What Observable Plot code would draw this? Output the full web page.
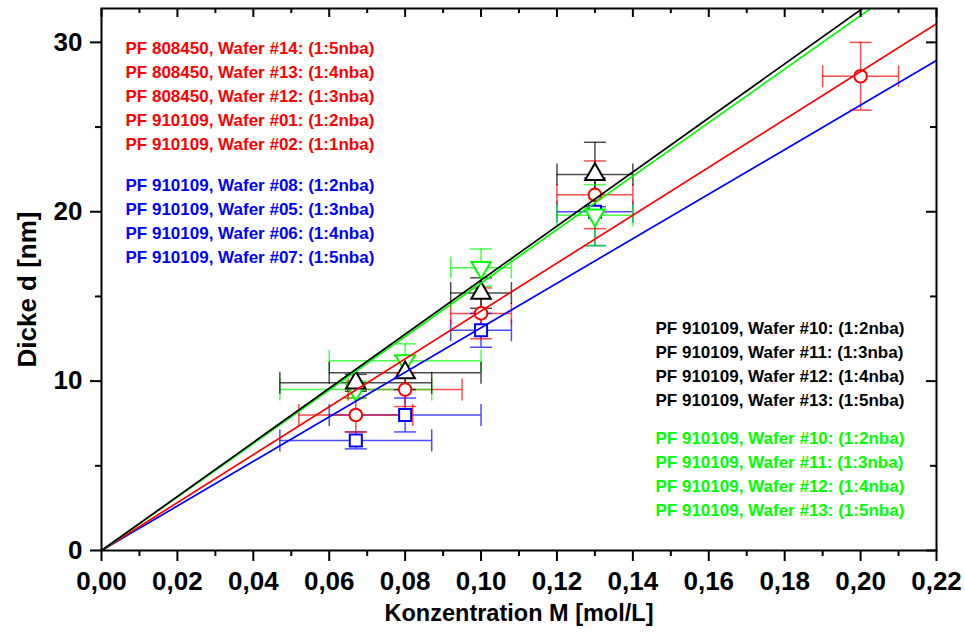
<!DOCTYPE html>
<html><head><meta charset="utf-8">
<script src="https://cdn.jsdelivr.net/npm/d3@7"></script>
<script src="https://cdn.jsdelivr.net/npm/@observablehq/plot@0.6"></script>
<style>body{margin:0;background:#fff}</style>
</head><body><div id="chart"></div>
<script>
// ---- data ----
const redConc      = [0.067, 0.08, 0.10, 0.13, 0.20];
const redThick     = [8.0, 9.5, 14.0, 21.0, 28.0];
const redConcErr   = [0.015, 0.015, 0.008, 0.01, 0.01];
const redThickErr  = [1.0, 1.0, 1.5, 2.0, 2.0];

const blueConc     = [0.067, 0.08, 0.10, 0.13];
const blueThick    = [6.5, 8.0, 13.0, 20.0];
const blueConcErr  = [0.02, 0.02, 0.008, 0.01];
const blueThickErr = [0.5, 1.0, 1.0, 2.0];

const blackConc     = [0.067, 0.08, 0.10, 0.13];
const blackThick    = [9.9, 10.5, 15.2, 22.2];
const blackConcErr  = [0.02, 0.02, 0.008, 0.01];
const blackThickErr = [0.5, 1.0, 0.9, 1.9];

const greenConc     = [0.067, 0.08, 0.10, 0.13];
const greenThick    = [9.5, 11.2, 16.7, 19.8];
const greenConcErr  = [0.02, 0.02, 0.008, 0.01];
const greenThickErr = [0.5, 1.0, 1.1, 1.8];

// slopes of the fitted lines through the origin (nm per mol/L)
const redSlope = 141.4, blueSlope = 131.5, blackSlope = 159.6, greenSlope = 157.9;

const xMajor = [0, 0.02, 0.04, 0.06, 0.08, 0.10, 0.12, 0.14, 0.16, 0.18, 0.20, 0.22];
const xMinor = [0.01, 0.03, 0.05, 0.07, 0.09, 0.11, 0.13, 0.15, 0.17, 0.19, 0.21];
const yMajor = [0, 10, 20, 30];
const yMinor = [5, 15, 25];

const redLabels = [
  "PF 808450, Wafer #14: (1:5nba)",
  "PF 808450, Wafer #13: (1:4nba)",
  "PF 808450, Wafer #12: (1:3nba)",
  "PF 910109, Wafer #01: (1:2nba)",
  "PF 910109, Wafer #02: (1:1nba)"
];
const blueLabels = [
  "PF 910109, Wafer #08: (1:2nba)",
  "PF 910109, Wafer #05: (1:3nba)",
  "PF 910109, Wafer #06: (1:4nba)",
  "PF 910109, Wafer #07: (1:5nba)"
];
const blackLabels = [
  "PF 910109, Wafer #10: (1:2nba)",
  "PF 910109, Wafer #11: (1:3nba)",
  "PF 910109, Wafer #12: (1:4nba)",
  "PF 910109, Wafer #13: (1:5nba)"
];
const greenLabels = [
  "PF 910109, Wafer #10: (1:2nba)",
  "PF 910109, Wafer #11: (1:3nba)",
  "PF 910109, Wafer #12: (1:4nba)",
  "PF 910109, Wafer #13: (1:5nba)"
];

const RED = "#ff0000", BLUE = "#0000ff", BLACK = "#000000", GREEN = "#00ff00";

// drawing order: blue, red, green, black
const series = [
  {color: BLUE,  symbol: "square",   rotate: 0,   r: 6.8, conc: blueConc,  thick: blueThick,  ce: blueConcErr,  te: blueThickErr,  slope: blueSlope},
  {color: RED,   symbol: "circle",   rotate: 0,   r: 6.3, conc: redConc,   thick: redThick,   ce: redConcErr,   te: redThickErr,   slope: redSlope},
  {color: GREEN, symbol: "triangle", rotate: 180, r: 7.2, conc: greenConc, thick: greenThick, ce: greenConcErr, te: greenThickErr, slope: greenSlope},
  {color: BLACK, symbol: "triangle", rotate: 0,   r: 7.2, conc: blackConc, thick: blackThick, ce: blackConcErr, te: blackThickErr, slope: blackSlope}
];

const table = series.flatMap(s => s.conc.map((c, i) => ({
  color: s.color, x: c, y: s.thick[i], xe: s.ce[i], ye: s.te[i]
})));

const cap = {draw(ctx, size) { const h = Math.sqrt(size / Math.PI); ctx.moveTo(-h, 0); ctx.lineTo(h, 0); }};

const W = 965, H = 635, mL = 101, mR = 29, mT = 8, mB = 85;
const fw = W - mL - mR, fh = H - mT - mB;
const errStyle = {stroke: "color", strokeWidth: 1.5, strokeOpacity: 0.7};
const comma = d => d.toFixed(2).replace(".", ",");
const legendStyle = {text: d => d, frameAnchor: "top-left", textAnchor: "start", lineAnchor: "top", fontSize: 17, fontWeight: "bold", lineHeight: 1.4};

const marks = [
  // error bars
  Plot.ruleX(table, {x: "x", y1: d => d.y - d.ye, y2: d => d.y + d.ye, ...errStyle}),
  Plot.ruleY(table, {y: "y", x1: d => d.x - d.xe, x2: d => d.x + d.xe, ...errStyle}),
  Plot.dot(table, {x: "x", y: d => d.y + d.ye, symbol: cap, r: 11, ...errStyle}),
  Plot.dot(table, {x: "x", y: d => d.y - d.ye, symbol: cap, r: 11, ...errStyle}),
  Plot.dot(table, {x: d => d.x - d.xe, y: "y", symbol: cap, r: 11, rotate: 90, ...errStyle}),
  Plot.dot(table, {x: d => d.x + d.xe, y: "y", symbol: cap, r: 11, rotate: 90, ...errStyle}),
  // markers
  ...series.map(s => Plot.dot(table.filter(d => d.color === s.color), {
    x: "x", y: "y", symbol: s.symbol, rotate: s.rotate, r: s.r,
    stroke: s.color, fill: "white", strokeWidth: 2
  })),
  // fitted lines through origin
  ...series.map(s => Plot.line([0, 0.22], {x: d => d, y: d => s.slope * d, stroke: s.color, strokeWidth: 1.7, clip: true})),
  // axes
  Plot.frame({stroke: "black", strokeWidth: 2}),
  Plot.axisX(xMajor, {tickSize: 11, tickPadding: 10, tickFormat: comma, fontSize: 26, fontWeight: "bold", strokeWidth: 2, label: null}),
  Plot.axisX(xMinor, {tickSize: 6, tickFormat: () => "", strokeWidth: 2, label: null}),
  Plot.axisY(yMajor, {tickSize: 11, tickPadding: 8, tickFormat: d => String(d), fontSize: 26, fontWeight: "bold", strokeWidth: 2, label: null}),
  Plot.axisY(yMinor, {tickSize: 6, tickFormat: () => "", strokeWidth: 2, label: null}),
  Plot.ruleX(xMajor, {insetBottom: fh - 9, strokeWidth: 2}),
  Plot.ruleX(xMinor, {insetBottom: fh - 5, strokeWidth: 2}),
  Plot.ruleY(yMajor, {insetLeft: fw - 10, strokeWidth: 2}),
  Plot.ruleY(yMinor, {insetLeft: fw - 6, strokeWidth: 2}),
  // titles
  Plot.text(["Konzentration M [mol/L]"], {text: d => d, frameAnchor: "bottom", lineAnchor: "middle", textAnchor: "middle", dy: 63, fontSize: 23.5, fontWeight: "bold"}),
  Plot.text(["Dicke d [nm]"], {text: d => d, frameAnchor: "left", lineAnchor: "middle", textAnchor: "middle", dx: -74, dy: 10, rotate: -90, fontSize: 26, fontWeight: "bold"}),
  // legends
  Plot.text([redLabels.join("\n")],   {...legendStyle, dx: 24,  dy: 29,  fill: RED}),
  Plot.text([blueLabels.join("\n")],  {...legendStyle, dx: 24,  dy: 166, fill: BLUE}),
  Plot.text([blackLabels.join("\n")], {...legendStyle, dx: 554, dy: 309, fill: BLACK}),
  Plot.text([greenLabels.join("\n")], {...legendStyle, dx: 554, dy: 419, fill: GREEN})
];

const chart = Plot.plot({
  width: W, height: H,
  marginLeft: mL, marginRight: mR, marginTop: mT, marginBottom: mB,
  x: {domain: [0, 0.22]},
  y: {domain: [0, 32]},
  color: {type: "identity"},
  style: {fontFamily: "'Liberation Sans', Arial, sans-serif", fontWeight: "bold", background: "white", color: "black"},
  marks
});
document.getElementById("chart").appendChild(chart);
</script>
</body></html>
